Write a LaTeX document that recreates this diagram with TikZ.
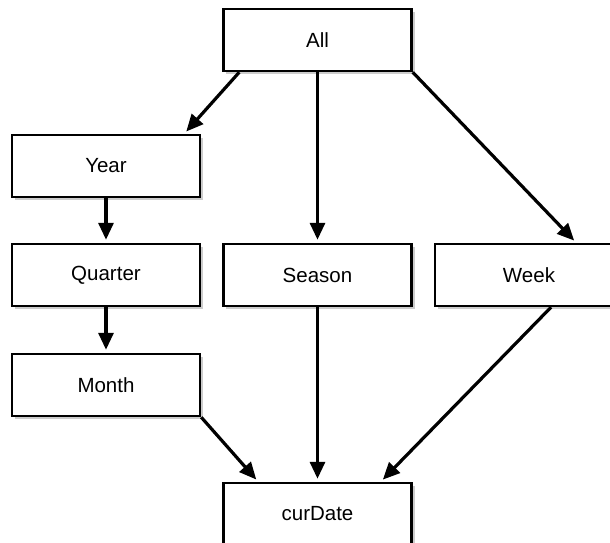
\documentclass[tikz,border=0pt]{standalone}
\usepackage{fontspec}
\setmainfont{Liberation Sans}
\usetikzlibrary{arrows.meta, positioning, shadows}

\begin{document}
\begin{tikzpicture}[
        shorten >= 3pt,
        node distance = 211.5pt,
        on grid,
        >= {Triangle[length = 17pt, width = 15pt]},
        dimbox/.style = {draw, line width = 2.5pt, fill = white,
                         minimum width = 188pt, minimum height = 62pt,
                         font = \fontsize{20.5}{24}\selectfont,
                         general shadow = {shadow xshift = 3pt, shadow yshift = -3pt, fill = black!20}},
        link/.style = {->, line width = 3.2pt}
    ]

      \node[dimbox] (all) {All};
      \useasboundingbox ([shift = {(-317.5pt, 40pt)}]all.center) rectangle ([shift = {(292.5pt, -503pt)}]all.center);

      \node[dimbox] (season)  [below = 235pt of all]     {Season};
      \node[dimbox] (quarter) [left = of season]         {Quarter};
      \node[dimbox] (week)    [right = of season]        {Week};
      \node[dimbox] (year)    [above = 109pt of quarter] {Year};
      \node[dimbox] (month)   [below = 110pt of quarter] {Month};
      \node[dimbox] (curdate) [below = 239pt of season]  {curDate};

      \path[link] ([xshift = 17pt]all.south west) edge ([xshift = -17pt]year.north east)
                  (all)                           edge (season)
                  (all.south east)                edge ([xshift = -48pt]week.north east)
                  (year)                          edge (quarter)
                  (quarter)                       edge (month)
                  (month.south east)              edge ([xshift = 36pt]curdate.north west)
                  (season)                        edge (curdate)
                  ([xshift = 22pt]week.south)     edge ([xshift = -32pt]curdate.north east);

\end{tikzpicture}
\end{document}
